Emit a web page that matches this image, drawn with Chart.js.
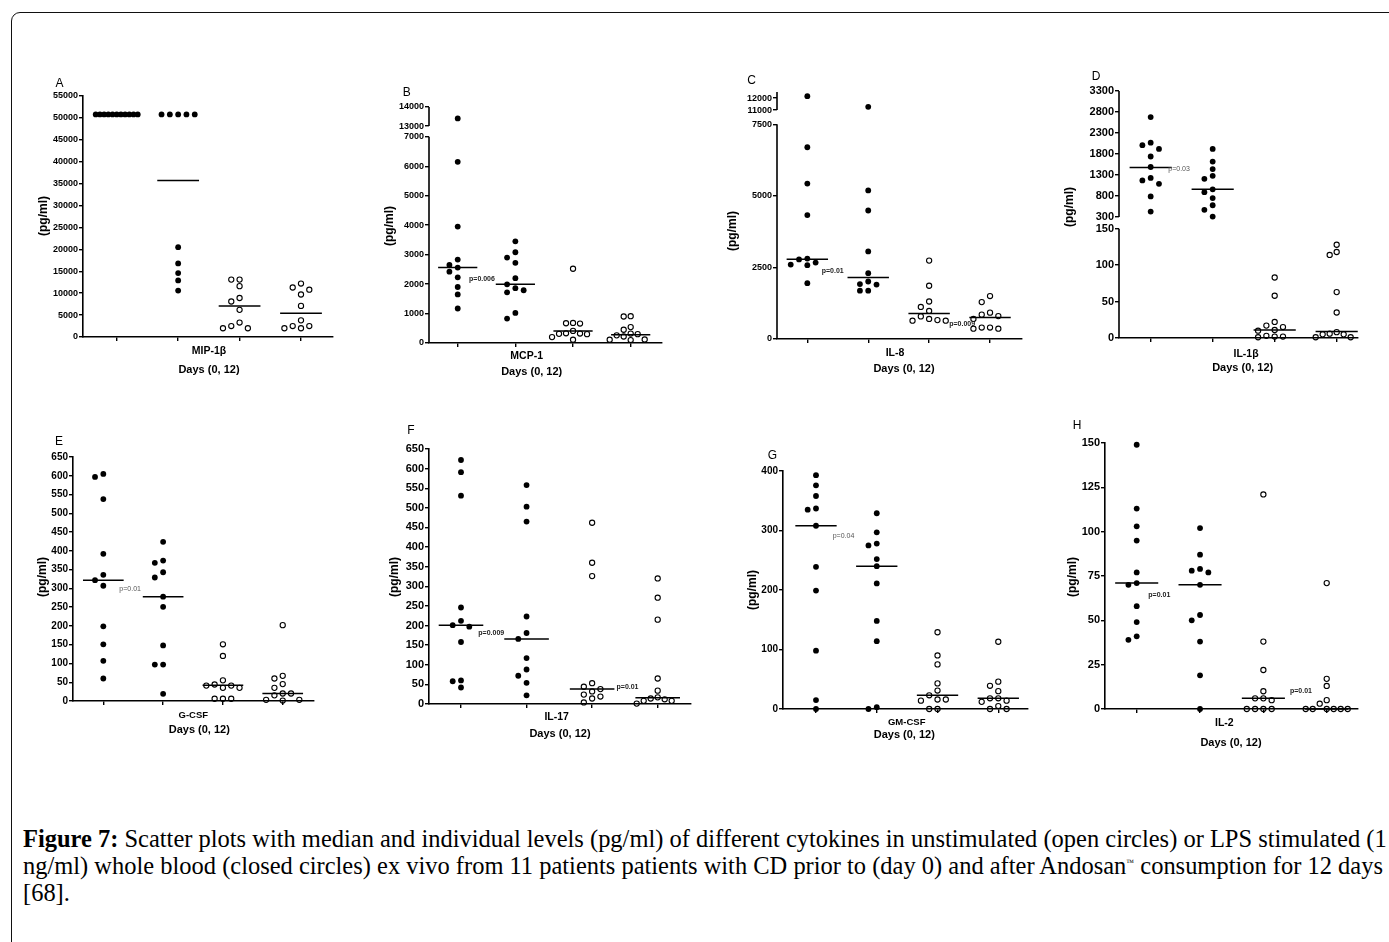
<!DOCTYPE html>
<html><head><meta charset="utf-8">
<script src="https://cdn.jsdelivr.net/npm/chart.js@4.4.1/dist/chart.umd.min.js"></script>
<style>
html,body{margin:0;padding:0;background:#fff;}
#stage{position:relative;width:1389px;height:942px;overflow:hidden;background:#fff;}
#frame{position:absolute;left:11px;top:12px;width:1420px;height:1000px;border:1px solid #111;border-top-left-radius:9px;box-sizing:border-box;}
canvas{position:absolute;}
#cap{position:absolute;left:23px;top:825px;width:1500px;font-family:"Liberation Serif","Times New Roman",serif;font-size:21px;line-height:27px;color:#000;}
#cap div{white-space:nowrap;}
sup{font-size:8px;vertical-align:9px;line-height:0;}
</style></head><body>
<div id="stage">
<div id="frame"></div>
<div id="cap">
<div><span id="cap1"><b>Figure 7:</b> Scatter plots with median and individual levels (pg/ml) of different cytokines in unstimulated (open circles) or LPS stimulated (1</span></div>
<div><span id="cap2">ng/ml) whole blood (closed circles) ex vivo from 11 patients patients with CD prior to (day 0) and after Andosan<sup>™</sup> consumption for 12 days</span></div>
<div>[68].</div>
</div>
</div>
<script>
// ---------------- DATA ----------------
const groupX = [1, 2, 3, 4]; // day0 LPS, day12 LPS, day0 unstim, day12 unstim

// A  MIP-1β
const mipLps0  = [50800,50800,50800,50800,50800,50800,50800,50800,50800,50800,50800];
const mipLps12 = [50800,50800,50800,50800,50800,20500,16800,14600,12900,10600];
const mipUn0   = [13100,13100,11600,8900,8100,6200,3300,2500,2000,2000];
const mipUn12  = [12200,11300,10800,9700,7100,3800,2500,2500,2000,2000];
const mipMedians = [50800, 35700, 7100, 5400];
const mipTicks = [0,5000,10000,15000,20000,25000,30000,35000,40000,45000,50000,55000];

// B  MCP-1
const mcpLps0  = [13400,6150,3950,2830,2650,2560,2420,2230,1900,1650,1170];
const mcpLps12 = [3450,3080,2900,2720,2200,1990,1860,1790,1720,1020,830];
const mcpUn0   = [2520,680,670,660,410,330,320,310,300,200,110];
const mcpUn12  = [910,900,540,450,320,300,260,220,120,110,100];
const mcpMedians = [2560, 1990, 410, 280];
const mcpTicks = [0,1000,2000,3000,4000,5000,6000,7000,13000,14000];

// C  IL-8
const il8Lps0  = [12150,6700,5430,4330,2810,2780,2670,2600,2580,1950];
const il8Lps12 = [11270,5190,4490,3060,2300,2010,1920,1900,1690,1690];
const il8Un0   = [2740,1860,1310,1120,980,790,700,660,640,640];
const il8Un12  = [1500,1290,920,850,800,700,400,400,360,360];
const il8Medians = [2790, 2150, 890, 755];
const il8Ticks = [0,2500,5000,7500,11000,12000];

// D  IL-1β
const il1Lps0  = [2680,2070,2010,1920,1740,1490,1230,1170,1090,790,430];
const il1Lps12 = [1920,1620,1440,1280,1210,960,890,750,580,470,310];
const il1Un0   = [83,58,22,17,15,11,10,3,2,2,1];
const il1Un12  = [128,118,114,63,35,8,6,5,5,1,1];
const il1Medians = [1480, 960, 11, 9];
const il1Ticks = [0,50,100,150,300,800,1300,1800,2300,2800,3300];

// E  G-CSF
const gcsfLps0  = [605,597,538,392,336,322,307,199,151,107,60];
const gcsfLps12 = [424,374,368,343,329,278,251,148,97,97,19];
const gcsfUn0   = [151,120,55,44,41,41,35,35,6,6,6];
const gcsfUn12  = [202,67,60,45,35,20,20,15,3,1,3];
const gcsfMedians = [322, 278, 42, 20];
const gcsfTicks = [0,50,100,150,200,250,300,350,400,450,500,550,600,650];

// F  IL-17
const il17Lps0  = [622,591,531,246,212,201,197,158,60,58,42];
const il17Lps12 = [558,503,465,223,181,166,117,88,72,54,22];
const il17Un0   = [462,360,326,53,44,38,32,24,19,14,4];
const il17Un12  = [320,271,215,65,34,17,14,12,8,8,1];
const il17Medians = [201, 166, 38, 16];
const il17Ticks = [0,50,100,150,200,250,300,350,400,450,500,550,600,650];

// G  GM-CSF
const gmLps0  = [393,376,358,337,335,308,239,199,98,15,0];
const gmLps12 = [329,297,278,275,252,240,211,148,114,3,0];
const gmUn0   = [129,90,75,43,31,23,16,16,14,0,0];
const gmUn12  = [113,46,39,30,18,18,14,12,5,0,0];
const gmMedians = [308, 240, 23, 18];
const gmTicks = [0,100,200,300,400];

// H  IL-2
const il2Lps0  = [149,113,103,95,77,71,70,58,49,41,39];
const il2Lps12 = [102,87,79,78,77,70,53,50,38,19,0];
const il2Un0   = [121,38,22,10,6,6,5,0,0,0,0];
const il2Un12  = [71,17,13,5,3,0,0,0,0,0,0];
const il2Medians = [71, 70, 6, 0];
const il2Ticks = [0,25,50,75,100,125,150];

// ---------------- LAYOUT / STYLE ----------------
const SANS = '"Liberation Sans", Arial, sans-serif';
const panels = [
 {id:'A', series:[mipLps0,mipLps12,mipUn0,mipUn12], medians:mipMedians, ticks:mipTicks, min:0, max:55000,
  L:83, R:333, T:96, B:337, xMin:0.451, xMax:4.521, tickFont:9, brk:null,
  letter:[59.5,84], yTitle:[44,216], xl1:['MIP-1β',209,351,10.5], xl2:[209,370], pv:[]},
 {id:'B', series:[mcpLps0,mcpLps12,mcpUn0,mcpUn12], medians:mcpMedians, ticks:mcpTicks, min:0, max:14000,
  L:429, R:662, T:107, B:343, xMin:0.502, xMax:4.543, tickFont:9,
  brk:{lowMax:7000, highMin:13000, lowFrac:0.874, gapFrac:0.0453},
  letter:[406.7,92.3], yTitle:[390,226], xl1:['MCP-1',526.7,355.7,10.5], xl2:[531.7,371.7],
  pv:[['p=0.006',1.196,2160,true]]},
 {id:'C', series:[il8Lps0,il8Lps12,il8Un0,il8Un12], medians:il8Medians, ticks:il8Ticks, min:0, max:12500,
  L:777, R:1022, T:92, B:339, xMin:0.502, xMax:4.525, tickFont:9,
  brk:{lowMax:7500, highMin:11000, lowFrac:0.869, gapFrac:0.0579},
  letter:[751.7,81], yTitle:[733,231], xl1:['IL-8',895,353,10.5], xl2:[904,369],
  pv:[['p=0.01',1.236,2370,true],['p=0.009',3.33,510,true]]},
 {id:'D', series:[il1Lps0,il1Lps12,il1Un0,il1Un12], medians:il1Medians, ticks:il1Ticks, min:0, max:3300,
  L:1119, R:1358, T:91, B:338, xMin:0.489, xMax:4.344, tickFont:11,
  brk:{lowMax:150, highMin:300, lowFrac:0.4425, gapFrac:0.0474},
  letter:[1096,77], yTitle:[1070,207], xl1:['IL-1β',1246,354,10.5], xl2:[1242.7,368],
  pv:[['p=0.03',1.284,1433,false]]},
 {id:'E', series:[gcsfLps0,gcsfLps12,gcsfUn0,gcsfUn12], medians:gcsfMedians, ticks:gcsfTicks, min:0, max:650,
  L:73, R:314, T:457, B:701, xMin:0.493, xMax:4.523, tickFont:10, brk:null,
  letter:[59,441.7], yTitle:[43,577], xl1:['G-CSF',193.3,715,9.5], xl2:[199.3,730],
  pv:[['p=0.01',1.268,297,false]]},
 {id:'F', series:[il17Lps0,il17Lps12,il17Un0,il17Un12], medians:il17Medians, ticks:il17Ticks, min:0, max:650,
  L:429, R:691, T:449, B:704, xMin:0.512, xMax:4.508, tickFont:11, brk:null,
  letter:[411,431], yTitle:[395,577], xl1:['IL-17',556.7,717.3,10.5], xl2:[560,734],
  pv:[['p=0.009',1.264,180,true],['p=0.01',3.372,42,true]]},
 {id:'G', series:[gmLps0,gmLps12,gmUn0,gmUn12], medians:gmMedians, ticks:gmTicks, min:0, max:400,
  L:783, R:1028, T:471, B:709, xMin:0.457, xMax:4.489, tickFont:10, brk:null,
  letter:[772.5,456], yTitle:[753,590], xl1:['GM-CSF',906.7,722,9.5], xl2:[904.3,735],
  pv:[['p=0.04',1.275,291,false]]},
 {id:'H', series:[il2Lps0,il2Lps12,il2Un0,il2Un12], medians:il2Medians, ticks:il2Ticks, min:0, max:150,
  L:1105, R:1358, T:443, B:709, xMin:0.4995, xMax:4.494, tickFont:11, brk:null,
  letter:[1077,426], yTitle:[1073,577], xl1:['IL-2',1224.3,723.3,10.5], xl2:[1231,743.3],
  pv:[['p=0.01',1.183,64,true],['p=0.01',3.42,10,true]]}
];

const PAD_L = 75, PAD_T = 28, PAD_R = 12, PAD_B = 48, YW = 40, XH = 6;
const SPACING = 8.3, THR = 6.4, HALFW = 21, MEDHALF = 0.34;

// ---------------- caption fit (line 2 ends near the right edge) ----------------
(function fitCaption() {
  const cap = document.getElementById('cap');
  const w2 = document.getElementById('cap2').getBoundingClientRect().width;
  if (w2 > 0) cap.style.fontSize = (21 * 1362 / w2).toFixed(2) + 'px';
})();

// ---------------- broken linear scale ----------------
const BRK = {};
class BrokenScale extends Chart.LinearScale {
  static id = 'brokenLinear';
  static defaults = {};
  _dec(v, b) {
    const lo = b.lowFrac, gap = b.gapFrac, hi = 1 - lo - gap;
    if (v <= b.lowMax) return (v - this.min) / (b.lowMax - this.min) * lo;
    if (v >= b.highMin) return lo + gap + (v - b.highMin) / (this.max - b.highMin) * hi;
    return lo + gap * (v - b.lowMax) / (b.highMin - b.lowMax);
  }
  getPixelForValue(value) {
    const b = BRK[this.chart.canvas.id];
    if (!b || value === null || value === undefined) return super.getPixelForValue(value);
    return this.getPixelForDecimal(this._dec(value, b));
  }
}
Chart.register(BrokenScale);

function makeDecor(p, ox, oy) {
  const X = v => v - ox, Y = v => v - oy;
  return {
    id: 'decor' + p.id,
    beforeDatasetsDraw(chart) {
      if (!p.brk) return;
      const ctx = chart.ctx, ys = chart.scales.y, x0 = chart.chartArea.left;
      ctx.save();
      ctx.strokeStyle = '#000'; ctx.lineWidth = 1.6;
      const seg = (a, b) => { ctx.beginPath(); ctx.moveTo(x0, ys.getPixelForValue(a)); ctx.lineTo(x0, ys.getPixelForValue(b)); ctx.stroke(); };
      seg(p.min, p.brk.lowMax);
      seg(p.brk.highMin, p.max);
      ctx.restore();
    },
    afterDatasetsDraw(chart) {
      const ctx = chart.ctx, xs = chart.scales.x, ys = chart.scales.y;
      ctx.save();
      ctx.strokeStyle = '#000'; ctx.lineWidth = 1.5;
      p.medians.forEach((m, i) => {
        const g = groupX[i], y = ys.getPixelForValue(m);
        ctx.beginPath();
        ctx.moveTo(xs.getPixelForValue(g - MEDHALF), y);
        ctx.lineTo(xs.getPixelForValue(g + MEDHALF), y);
        ctx.stroke();
      });
      ctx.textBaseline = 'middle';
      p.pv.forEach(([t, gx, vy, bold]) => {
        ctx.font = (bold ? 'bold ' : '') + '7px ' + SANS;
        ctx.fillStyle = bold ? '#222' : '#555';
        ctx.textAlign = 'left';
        ctx.fillText(t, xs.getPixelForValue(gx), ys.getPixelForValue(vy));
      });
      ctx.fillStyle = '#000';
      ctx.font = '12px ' + SANS; ctx.textAlign = 'center';
      ctx.fillText(p.id, X(p.letter[0]), Y(p.letter[1]));
      ctx.font = 'bold ' + p.xl1[3] + 'px ' + SANS;
      ctx.fillText(p.xl1[0], X(p.xl1[1]), Y(p.xl1[2]));
      ctx.font = 'bold 11px ' + SANS;
      ctx.fillText('Days (0, 12)', X(p.xl2[0]), Y(p.xl2[1]));
      ctx.save();
      ctx.translate(X(p.yTitle[0]), Y(p.yTitle[1]));
      ctx.rotate(-Math.PI / 2);
      ctx.font = 'bold 12px ' + SANS;
      ctx.fillText('(pg/ml)', 0, 0);
      ctx.restore();
      ctx.restore();
    }
  };
}

function swarm(chart, p) {
  const xs = chart.scales.x, ys = chart.scales.y;
  const ppu = xs.getPixelForValue(2) - xs.getPixelForValue(1);
  const cands = [0,-1,1,-2,2,-3,3,-4,4,-5,5,-6,6,-7,7,-8,8];
  chart.data.datasets.forEach((ds, di) => {
    const vals = p.series[di];
    const py = vals.map(v => ys.getPixelForValue(v));
    const order = vals.map((v, i) => i).sort((a, b) => vals[b] - vals[a]);
    const slot = new Array(vals.length).fill(0);
    const placed = [];
    order.forEach(i => {
      for (const k of cands) {
        if (!placed.some(j => slot[j] === k && Math.abs(py[j] - py[i]) < THR)) { slot[i] = k; placed.push(i); break; }
      }
    });
    const maxS = Math.max(...slot.map(s => Math.abs(s)));
    const sp = maxS ? Math.min(SPACING, HALFW / maxS) : SPACING;
    ds.data = vals.map((v, i) => ({x: groupX[di] + slot[i] * sp / ppu, y: v}));
  });
  chart.update('none');
}

const stage = document.getElementById('stage');
panels.forEach(p => {
  const ox = p.L - PAD_L, oy = p.T - PAD_T;
  const w = p.R - p.L + PAD_L + PAD_R, h = p.B - p.T + PAD_T + PAD_B;
  const cv = document.createElement('canvas');
  cv.id = 'cv' + p.id;
  cv.width = w; cv.height = h;
  cv.style.left = ox + 'px'; cv.style.top = oy + 'px';
  cv.style.width = w + 'px'; cv.style.height = h + 'px';
  stage.appendChild(cv);
  if (p.brk) BRK[cv.id] = p.brk;
  const chart = new Chart(cv, {
    type: 'scatter',
    data: {
      datasets: p.series.map((vals, i) => ({
        data: vals.map(v => ({x: groupX[i], y: v})),
        pointRadius: i < 2 ? 2.9 : 2.6,
        pointHoverRadius: i < 2 ? 2.9 : 2.6,
        pointBackgroundColor: i < 2 ? '#000' : 'rgba(0,0,0,0)',
        pointBorderColor: '#000',
        pointBorderWidth: i < 2 ? 0 : 1.1,
        clip: false
      }))
    },
    options: {
      responsive: false, animation: false, devicePixelRatio: 1, events: [],
      layout: {autoPadding: false, padding: {left: PAD_L - YW, top: PAD_T, right: PAD_R, bottom: PAD_B - XH}},
      plugins: {legend: {display: false}, tooltip: {enabled: false}},
      scales: {
        x: {
          type: 'linear', min: p.xMin, max: p.xMax,
          afterBuildTicks: s => { s.ticks = groupX.map(v => ({value: v})); },
          ticks: {display: false},
          grid: {drawOnChartArea: false, drawTicks: true, tickLength: 4, color: '#000', lineWidth: 1.4},
          border: {display: true, color: '#000', width: 1.6},
          afterFit: s => { s.height = XH; }
        },
        y: {
          type: 'brokenLinear', min: p.min, max: p.max,
          afterBuildTicks: s => { s.ticks = p.ticks.map(v => ({value: v})); },
          ticks: {autoSkip: false, padding: 1, color: '#000',
                  font: {family: SANS, size: p.tickFont, weight: 'bold'},
                  callback: v => String(v)},
          grid: {drawOnChartArea: false, drawTicks: true, tickLength: 4, color: '#000', lineWidth: 1.4},
          border: {display: !p.brk, color: '#000', width: 1.6},
          afterFit: s => { s.width = YW; }
        }
      }
    },
    plugins: [makeDecor(p, ox, oy)]
  });
  swarm(chart, p);
});
</script>
</body></html>
